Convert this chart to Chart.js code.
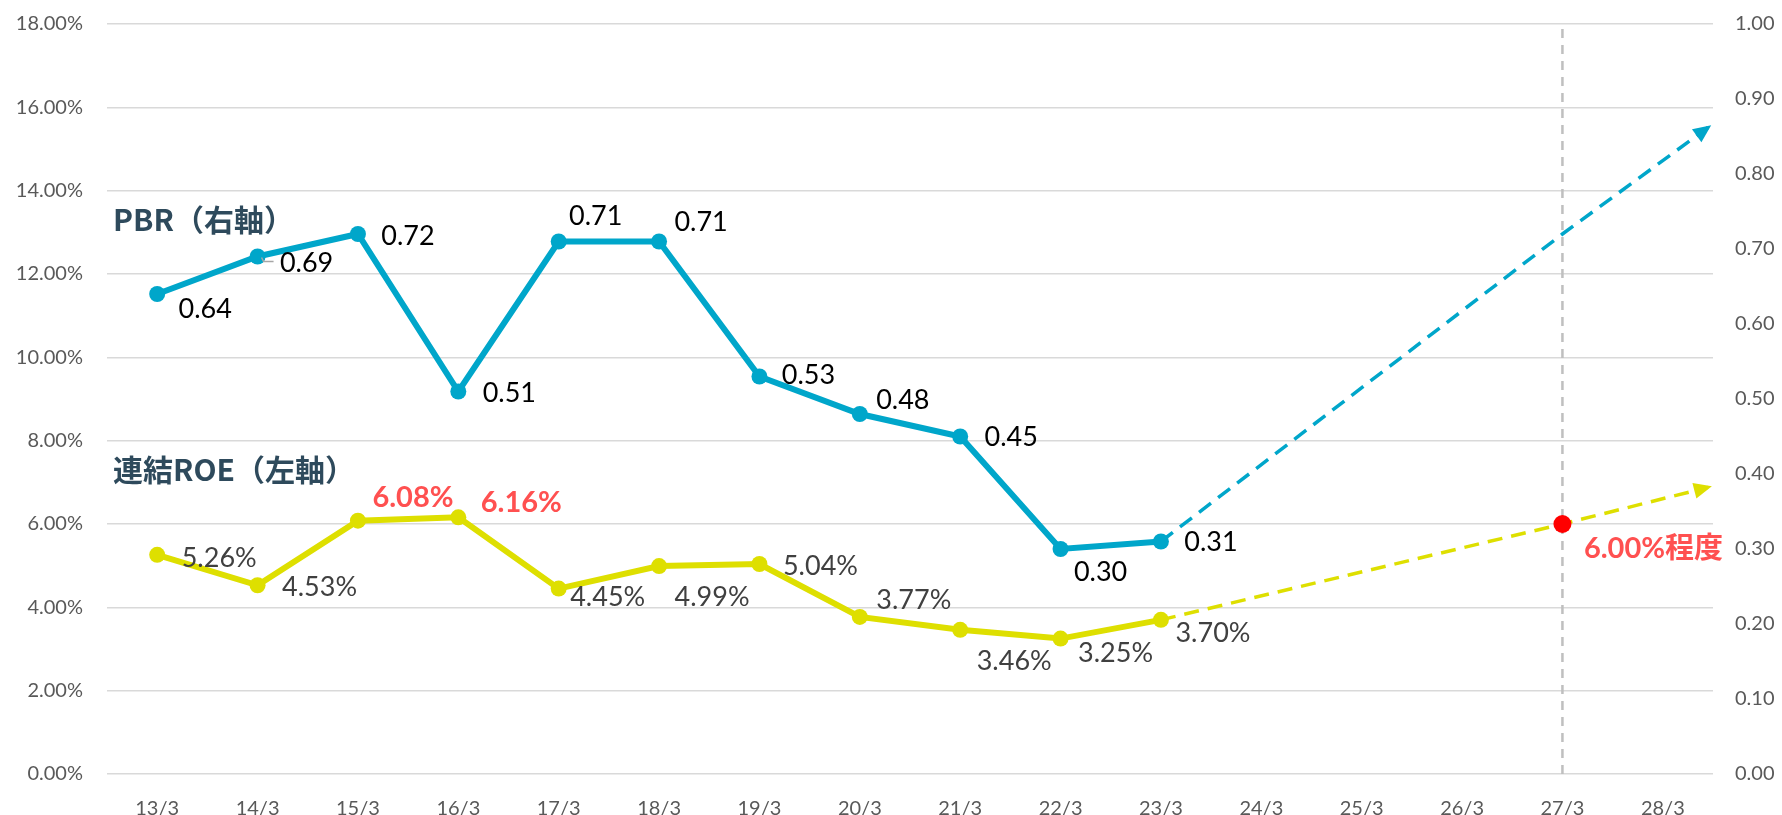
<!DOCTYPE html>
<html><head><meta charset="utf-8">
<script src="https://cdn.jsdelivr.net/npm/chart.js@4.4.1/dist/chart.umd.min.js"></script>
<style>html,body{margin:0;padding:0;background:#fff;}canvas{display:block;}</style>
</head><body>
<canvas id="c" width="1782" height="815"></canvas>
<script>
// ---- data ----
const categories = ['13/3','14/3','15/3','16/3','17/3','18/3','19/3','20/3','21/3','22/3','23/3','24/3','25/3','26/3','27/3','28/3'];
const pbr = [0.64, 0.69, 0.72, 0.51, 0.71, 0.71, 0.53, 0.48, 0.45, 0.30, 0.31];
const roe = [5.26, 4.53, 6.08, 6.16, 4.45, 4.99, 5.04, 3.77, 3.46, 3.25, 3.70];
const projectionX = [10, 14, 15.45];
const pbrProjection = [0.31, 0.72, 0.862];
const roeProjection = [3.70, 6.00, 6.88];
const targetIndex = 14;
const roeTarget = 6.00;
const roeTargetLabel = '6.00%程度';
const roeHighlight = [2, 3];
const pbrTitle = 'PBR（右軸）';
const roeTitle = '連結ROE（左軸）';

// ---- styles ----
const FAM = "Lato, 'Noto Sans CJK JP', sans-serif";
const BLUE = '#00A6CA';
const YELLOW = '#DEDF00';
const pbrLabelOffsets = [[48,15],[49,7],[50,2],[51,2],[37,-25],[42,-19],[49,-1],[43,-14],[51,1],[40,23],[50,1]];
const roeLabelOffsets = [[62,3],[62,2],[55,-23],[63,-15],[49,9],[53,31],[61,2],[54,-17],[54,31],[55,15],[52,13]];
const targetLabelOffset = [91,25];

const pts = (xs, ys) => ys.map((v, i) => ({x: xs[i], y: v}));
const idx = arr => arr.map((_, i) => i);

const labelPlugin = {
  id: 'valueLabels',
  afterDatasetsDraw(chart) {
    const ctx = chart.ctx;
    ctx.save();
    ctx.textAlign = 'center';
    ctx.textBaseline = 'middle';
    const mp = chart.getDatasetMeta(0).data;
    // small leader line for the 14/3 PBR label
    ctx.strokeStyle = '#A6A6A6';
    ctx.lineWidth = 1.5;
    ctx.beginPath();
    ctx.moveTo(mp[1].x + 4, mp[1].y + 1);
    ctx.lineTo(mp[1].x + 6, mp[1].y + 5);
    ctx.lineTo(mp[1].x + 16, mp[1].y + 5);
    ctx.stroke();
    ctx.font = '27px ' + FAM;
    ctx.fillStyle = '#000000';
    pbr.forEach((v, i) => {
      const p = mp[i];
      ctx.fillText(v.toFixed(2), p.x + pbrLabelOffsets[i][0], p.y + pbrLabelOffsets[i][1]);
    });
    const mr = chart.getDatasetMeta(1).data;
    roe.forEach((v, i) => {
      const p = mr[i];
      const hl = roeHighlight.includes(i);
      ctx.font = (hl ? 'bold 29px ' : '27px ') + FAM;
      ctx.fillStyle = hl ? '#FF5050' : '#404040';
      ctx.fillText(v.toFixed(2) + '%', p.x + roeLabelOffsets[i][0], p.y + roeLabelOffsets[i][1]);
    });
    const mt = chart.getDatasetMeta(4).data[0];
    ctx.font = 'bold 29px ' + FAM;
    ctx.fillStyle = '#FF5050';
    ctx.fillText(roeTargetLabel, mt.x + targetLabelOffset[0], mt.y + targetLabelOffset[1]);
    // series titles
    const ys = chart.scales.y;
    ctx.textAlign = 'left';
    ctx.font = "bold 30px 'Noto Sans CJK JP', sans-serif";
    ctx.fillStyle = '#2E4A5C';
    ctx.fillText(pbrTitle, chart.chartArea.left + 6, ys.getPixelForValue(13.3));
    ctx.fillText(roeTitle, chart.chartArea.left + 6, ys.getPixelForValue(7.3));
    ctx.restore();
  }
};

const arrowPlugin = {
  id: 'arrows',
  afterDatasetsDraw(chart) {
    const ctx = chart.ctx;
    chart.data.datasets.forEach((ds, di) => {
      if (!ds.arrow) return;
      const d = chart.getDatasetMeta(di).data;
      const a = d[d.length - 2], b = d[d.length - 1];
      const ang = Math.atan2(b.y - a.y, b.x - a.x);
      const L = 18, W = 8;
      ctx.save();
      ctx.translate(b.x, b.y);
      ctx.rotate(ang);
      ctx.beginPath();
      ctx.moveTo(4, 0);
      ctx.lineTo(4 - L, -W);
      ctx.lineTo(4 - L, W);
      ctx.closePath();
      ctx.fillStyle = ds.borderColor;
      ctx.fill();
      ctx.restore();
    });
  }
};

const fitY = w => s => { s.width = w; s.paddingTop = 0; s.paddingBottom = 0; };

new Chart(document.getElementById('c'), {
  type: 'line',
  data: {
    datasets: [
      { label: 'PBR', data: pts(idx(pbr), pbr), yAxisID: 'y1', borderColor: BLUE, backgroundColor: BLUE,
        borderWidth: 6, pointRadius: 8, pointBorderWidth: 0, pointBackgroundColor: BLUE, order: 1 },
      { label: 'ROE', data: pts(idx(roe), roe), yAxisID: 'y', borderColor: YELLOW, backgroundColor: YELLOW,
        borderWidth: 6, pointRadius: 8, pointBorderWidth: 0, pointBackgroundColor: YELLOW, order: 2 },
      { label: 'PBR projection', data: pts(projectionX, pbrProjection), yAxisID: 'y1', borderColor: BLUE,
        borderWidth: 3.5, borderDash: [15, 9], pointRadius: 0, arrow: true, clip: false, order: 5 },
      { label: 'ROE projection', data: pts(projectionX, roeProjection), yAxisID: 'y', borderColor: YELLOW,
        borderWidth: 3.5, borderDash: [15, 9], pointRadius: 0, arrow: true, clip: false, order: 6 },
      { label: 'ROE target', data: [{x: targetIndex, y: roeTarget}], yAxisID: 'y', showLine: false,
        pointRadius: 9, pointBorderWidth: 0, pointBackgroundColor: '#FF0000', borderColor: '#FF0000', order: 0 },
      { label: 'target year', data: [{x: targetIndex, y: 0}, {x: targetIndex, y: 18}], yAxisID: 'y',
        borderColor: '#BFBFBF', borderWidth: 2.5, borderDash: [9, 7], pointRadius: 0, order: 10 }
    ]
  },
  options: {
    responsive: false, animation: false, devicePixelRatio: 1,
    layout: { padding: { top: 24, left: 0, right: 0, bottom: 0 } },
    plugins: { legend: { display: false }, tooltip: { enabled: false } },
    scales: {
      x: {
        type: 'linear', min: -0.5, max: 15.5,
        grid: { display: false }, border: { display: false },
        afterBuildTicks: s => { s.ticks = categories.map((c, i) => ({ value: i })); },
        ticks: { callback: v => categories[v] ?? '', font: { family: FAM, size: 20 }, color: '#595959',
                 padding: 15, autoSkip: false, maxRotation: 0 },
        afterFit: s => { s.height = 41; s.paddingLeft = 0; s.paddingRight = 0; }
      },
      y: {
        position: 'left', min: 0, max: 18,
        ticks: { stepSize: 2, callback: v => v.toFixed(2) + '%', font: { family: FAM, size: 20 }, color: '#595959', padding: 24 },
        grid: { color: '#D9D9D9', lineWidth: 1.5, drawTicks: false }, border: { display: false },
        afterFit: fitY(107)
      },
      y1: {
        position: 'right', min: 0, max: 1,
        ticks: { stepSize: 0.1, callback: v => v.toFixed(2), font: { family: FAM, size: 20 }, color: '#595959', padding: 22 },
        grid: { display: false, drawTicks: false }, border: { display: false },
        afterFit: fitY(69)
      }
    }
  },
  plugins: [arrowPlugin, labelPlugin]
});
</script>
</body></html>
